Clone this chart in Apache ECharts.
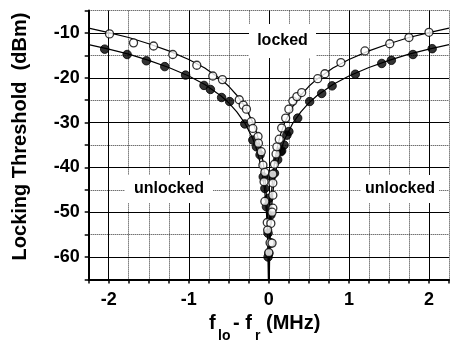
<!DOCTYPE html>
<html>
<head>
<meta charset="utf-8">
<script src="https://cdn.jsdelivr.net/npm/echarts@6/dist/echarts.min.js"></script>
<style>
html, body { margin: 0; padding: 0; background: #fff; }
#chart { width: 452px; height: 343px; }
</style>
</head>
<body>
<div id="chart"></div>
<script>
// measured points, open circles
var openPts = [
	[-1.99, -10.2], [-1.69, -12.2], [-1.44, -12.9], [-1.20, -14.8], [-0.90, -17.2],
	[-0.70, -19.6], [-0.58, -20.4], [-0.37, -24.9], [-0.32, -26.1], [-0.28, -27.0],
	[-0.22, -29.8], [-0.20, -31.3], [-0.135, -33.1], [-0.13, -34.6], [-0.095, -36.5],
	[-0.074, -39.5], [-0.05, -41.1], [-0.06, -43.2], [0.05, -43.5], [0.05, -46.2],
	[-0.05, -47.6], [0.05, -49.1], [0.04, -50.0], [-0.02, -52.3], [0.025, -52.5],
	[-0.015, -54.0], [0.015, -56.8], [0.04, -56.9], [0.0, -59.0],
	[0.05, -41.5], [0.07, -39.3], [0.09, -37.0], [0.10, -35.4], [0.13, -33.7],
	[0.16, -31.2], [0.21, -29.0], [0.25, -27.0], [0.30, -25.2], [0.35, -24.2],
	[0.41, -23.3], [0.61, -20.2], [0.70, -19.1], [0.90, -16.6], [1.20, -14.0],
	[1.51, -12.4], [1.75, -11.0], [2.00, -9.85]
];
// measured points, filled circles
var filledPts = [
	[-2.05, -13.6], [-1.77, -14.8], [-1.53, -16.2], [-1.30, -17.5], [-1.04, -19.4],
	[-0.81, -21.7], [-0.73, -22.6], [-0.59, -24.4], [-0.49, -25.3], [-0.30, -30.3],
	[-0.20, -33.9], [-0.155, -35.4], [-0.11, -37.2], [-0.07, -42.1], [0.03, -42.1],
	[-0.05, -44.7], [0.0, -46.9], [-0.03, -48.8], [0.025, -50.6], [-0.01, -54.7],
	[0.025, -56.9], [0.0, -59.2], [-0.01, -60.0],
	[0.07, -41.3], [0.11, -38.3], [0.15, -36.5], [0.16, -36.3], [0.19, -35.0],
	[0.225, -32.8], [0.25, -32.0], [0.36, -29.0], [0.51, -25.3], [0.66, -23.5],
	[0.79, -21.8], [1.08, -19.2], [1.41, -16.8], [1.53, -16.1], [1.80, -14.8],
	[2.04, -13.5]
];
// fitted curves
var openFit = [
	[-2.25, -8.9], [-2.0, -9.9], [-1.75, -11.0], [-1.5, -12.4], [-1.25, -14.0],
	[-1.0, -15.9], [-0.8, -17.8], [-0.6, -20.3], [-0.5, -21.9], [-0.4, -23.9],
	[-0.3, -26.4], [-0.2, -29.9], [-0.15, -32.4], [-0.1, -35.9], [-0.07, -39.0],
	[-0.05, -41.9], [-0.03, -46.4], [-0.02, -49.9], [-0.01, -55.9], [-0.005, -61.9],
	[-0.0035, -65], null,
	[0.0035, -65], [0.005, -61.9], [0.01, -55.9], [0.02, -49.9], [0.03, -46.4],
	[0.05, -41.9], [0.07, -39.0], [0.1, -35.9], [0.15, -32.4], [0.2, -29.9],
	[0.3, -26.4], [0.4, -23.9], [0.5, -21.9], [0.6, -20.3], [0.8, -17.8],
	[1.0, -15.9], [1.25, -14.0], [1.5, -12.4], [1.75, -11.0], [2.0, -9.9], [2.25, -8.9]
];
var filledFit = [
	[-2.25, -12.6], [-2.0, -13.6], [-1.75, -14.7], [-1.5, -16.1], [-1.25, -17.7],
	[-1.0, -19.6], [-0.8, -21.5], [-0.6, -24.0], [-0.5, -25.6], [-0.4, -27.6],
	[-0.3, -30.1], [-0.2, -33.6], [-0.15, -36.1], [-0.1, -39.6], [-0.07, -42.7],
	[-0.05, -45.6], [-0.03, -50.1], [-0.02, -53.6], [-0.01, -59.6], [-0.0056, -65], null,
	[0.0056, -65], [0.01, -59.6], [0.02, -53.6], [0.03, -50.1], [0.05, -45.6],
	[0.07, -42.7], [0.1, -39.6], [0.15, -36.1], [0.2, -33.6], [0.3, -30.1],
	[0.4, -27.6], [0.5, -25.6], [0.6, -24.0], [0.8, -21.5], [1.0, -19.6],
	[1.25, -17.7], [1.5, -16.1], [1.75, -14.7], [2.0, -13.6], [2.25, -12.6]
];
var xMajor = [-2, -1, 0, 1, 2];
var yMajor = [-10, -20, -30, -40, -50, -60];

var font = '"Liberation Sans", Arial, sans-serif';
var majorLines = [];
xMajor.forEach(function (v) { majorLines.push({ xAxis: v }); });
yMajor.forEach(function (v) { majorLines.push({ yAxis: v }); });

function labelBox(cx, cy, w, h, txt) {
	return [{
		type: 'rect', z: 100,
		shape: { x: cx - w / 2, y: cy - h / 2, width: w, height: h },
		style: { fill: '#fff' }
	}, {
		type: 'text', z: 101, x: cx, y: cy,
		style: { text: txt, font: 'bold 16px ' + font, fill: '#000', align: 'center', verticalAlign: 'middle' }
	}];
}

var graphics = [].concat(
	labelBox(282.5, 41, 67, 34, 'locked'),
	labelBox(169, 189, 88, 28, 'unlocked'),
	labelBox(400, 189, 78, 28, 'unlocked'),
	[
		{ type: 'text', x: 20, y: 136.5, rotation: Math.PI / 2,
			style: { text: 'Locking Threshold  (dBm)', font: 'bold 20px ' + font, fill: '#000', align: 'center', verticalAlign: 'middle' } },
		{ type: 'text', x: 209, y: 323, style: { text: 'f', font: 'bold 20px ' + font, fill: '#000', verticalAlign: 'middle' } },
		{ type: 'text', x: 218, y: 336, style: { text: 'lo', font: 'bold 14px ' + font, fill: '#000', verticalAlign: 'middle' } },
		{ type: 'text', x: 233, y: 323, style: { text: '- f', font: 'bold 20px ' + font, fill: '#000', verticalAlign: 'middle' } },
		{ type: 'text', x: 255, y: 336, style: { text: 'r', font: 'bold 14px ' + font, fill: '#000', verticalAlign: 'middle' } },
		{ type: 'text', x: 266, y: 323, style: { text: '(MHz)', font: 'bold 20px ' + font, fill: '#000', verticalAlign: 'middle' } }
	]
);

var mycharts = echarts.init(document.getElementById('chart'), null, { renderer: 'canvas' });
var option = {
	animation: false,
	backgroundColor: '#fff',
	grid: { left: 88.7, top: 10.6, right: -2.3, bottom: 63.6, containLabel: false },
	xAxis: {
		type: 'value', min: -2.25, max: 2.25, interval: 0.25,
		axisLine: { show: true, onZero: false, lineStyle: { color: '#000', width: 2 } },
		axisTick: { show: true, length: 4, lineStyle: { color: '#000', width: 1.5 } },
		axisLabel: {
			margin: 12, color: '#000', fontSize: 18, fontWeight: 'bold', fontFamily: font,
			formatter: function (v) { return Math.abs(v - Math.round(v)) < 1e-6 ? String(Math.round(v)) : ''; }
		},
		splitLine: { show: true, lineStyle: { color: '#333', width: 1, type: [1, 1] } }
	},
	yAxis: {
		type: 'value', min: -65, max: -5, interval: 5,
		axisLine: { show: true, onZero: false, lineStyle: { color: '#000', width: 2 } },
		axisTick: { show: true, length: 4, lineStyle: { color: '#000', width: 1.5 } },
		axisLabel: {
			margin: 9, color: '#000', fontSize: 18, fontWeight: 'bold', fontFamily: font,
			formatter: function (v) { return (v % 10 === 0 && v > -65) ? String(v) : ''; }
		},
		splitLine: { show: true, lineStyle: { color: '#333', width: 1, type: [1, 1] } }
	},
	graphic: graphics,
	series: [{
		name: 'open fit', type: 'line', data: openFit, showSymbol: false, symbol: 'none',
		connectNulls: false, clip: true, z: 3,
		lineStyle: { color: '#000', width: 1.2 },
		markLine: {
			silent: true, symbol: 'none', label: { show: false }, animation: false,
			lineStyle: { color: '#000', width: 1, type: 'solid' },
			data: majorLines
		}
	}, {
		name: 'filled fit', type: 'line', data: filledFit, showSymbol: false, symbol: 'none',
		connectNulls: false, clip: true, z: 3,
		lineStyle: { color: '#000', width: 1.2 }
	}, {
		name: 'filled', type: 'scatter', data: filledPts, symbol: 'circle', symbolSize: 8.5, z: 4,
		itemStyle: { color: '#000', borderColor: '#000', borderWidth: 1 }
	}, {
		name: 'open', type: 'scatter', data: openPts, symbol: 'circle', symbolSize: 8, z: 5,
		itemStyle: { color: '#fff', borderColor: '#000', borderWidth: 1.3 }
	}]
};
mycharts.setOption(option);
mycharts.resize();
</script>
</body>
</html>
